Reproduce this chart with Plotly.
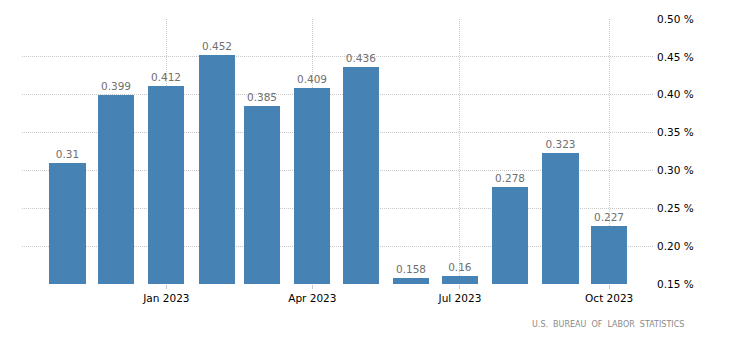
import plotly.graph_objects as go

months = ["2022-11-01", "2022-12-01", "2023-01-01", "2023-02-01", "2023-03-01", "2023-04-01",
          "2023-05-01", "2023-06-01", "2023-07-01", "2023-08-01", "2023-09-01", "2023-10-01"]
values = [0.31, 0.399, 0.412, 0.452, 0.385, 0.409, 0.436, 0.158, 0.16, 0.278, 0.323, 0.227]
labels = ["0.31", "0.399", "0.412", "0.452", "0.385", "0.409", "0.436", "0.158", "0.16", "0.278", "0.323", "0.227"]
xtick_vals = ["2023-01-01", "2023-04-01", "2023-07-01", "2023-10-01"]
xtick_text = ["Jan 2023", "Apr 2023", "Jul 2023", "Oct 2023"]
ytick_vals = [0.15, 0.20, 0.25, 0.30, 0.35, 0.40, 0.45, 0.50]
ytick_text = ["0.15 %", "0.20 %", "0.25 %", "0.30 %", "0.35 %", "0.40 %", "0.45 %", "0.50 %"]
source = "U.S.  BUREAU  OF  LABOR  STATISTICS"

DAY_MS = 86400000
base = 0.15

fig = go.Figure(go.Bar(
    x=months,
    y=[v - base for v in values],
    base=base,
    width=[22.3 * DAY_MS] * len(months),
    marker=dict(color="#4682B4", line=dict(width=0)),
    text=labels,
    textposition="outside",
    textfont=dict(color="#707070", size=10.5, family="DejaVu Sans"),
    cliponaxis=False,
    hoverinfo="skip",
))

fig.update_layout(
    width=730, height=351,
    margin=dict(l=22, r=77, t=19, b=67),
    paper_bgcolor="white", plot_bgcolor="white",
    showlegend=False,
    font=dict(family="DejaVu Sans", size=10, color="#000000"),
    xaxis=dict(
        type="date",
        range=["2022-10-04", "2023-10-28"],
        tickvals=xtick_vals, ticktext=xtick_text,
        showgrid=True, gridcolor="#c8c8c8", griddash="1px,1px", gridwidth=1,
        ticks="outside", ticklen=4, tickcolor="#c8c8c8",
        tickfont=dict(size=10.5, color="#000000"),
        showline=False, zeroline=False,
    ),
    yaxis=dict(
        side="right",
        range=[0.15, 0.50],
        tickvals=ytick_vals, ticktext=ytick_text,
        showgrid=True, gridcolor="#c8c8c8", griddash="1px,1px", gridwidth=1,
        tickfont=dict(size=10.5, color="#000000"),
        ticklabelstandoff=3,
        showline=False, zeroline=False,
    ),
    bargap=0,
    annotations=[dict(
        text=source, xref="paper", yref="paper",
        x=(686 - 22) / 631, y=-(324 - 284) / 265,
        xanchor="right", yanchor="middle", showarrow=False,
        font=dict(size=8, color="#8a8a8a", family="DejaVu Sans"),
    )],
)

fig.write_html("out.html")
